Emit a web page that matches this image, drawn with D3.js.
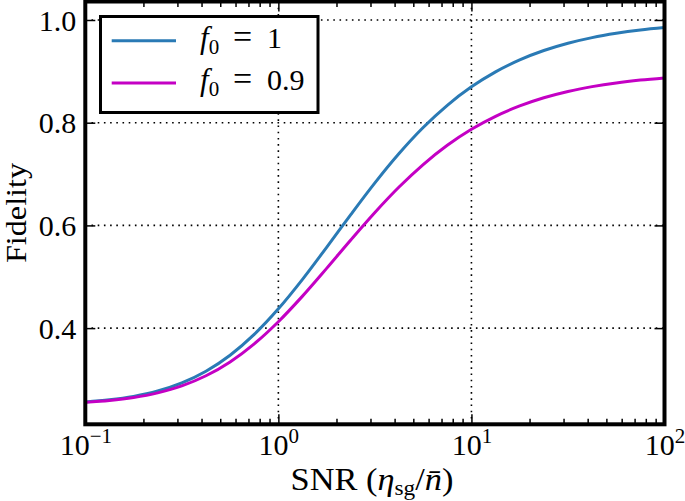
<!DOCTYPE html>
<html><head><meta charset="utf-8">
<script src="https://cdn.jsdelivr.net/npm/d3@7"></script>
<style>
body{margin:0;background:#fff;}
svg text{font-family:"Liberation Serif",serif !important;fill:#000;}
</style></head>
<body><svg id="c" width="685" height="501"></svg>
<script>
// SNR sample points (log-spaced)
const snr = [0.1,0.1334,0.1778,0.2371,0.3162,0.4217,0.5623,0.7499,1,1.3335,1.7783,2.3714,3.1623,4.217,5.6234,7.4989,10,13.335,17.783,23.714,31.623,42.17,56.234,74.989,100];
const fid1 = [0.2562,0.2604,0.2671,0.2776,0.2933,0.3160,0.3472,0.3877,0.4375,0.4949,0.5573,0.6211,0.6829,0.7400,0.7906,0.8339,0.8698,0.8990,0.9223,0.9405,0.9547,0.9657,0.9740,0.9804,0.9852];
const fid09 = [0.2554,0.2590,0.2648,0.2739,0.2875,0.3072,0.3342,0.3694,0.4125,0.4623,0.5163,0.5716,0.6252,0.6747,0.7185,0.7560,0.7872,0.8125,0.8326,0.8485,0.8608,0.8702,0.8775,0.8830,0.8872];
const seriesNames = ["1","0.9"];
const seriesColors = ["#2a7ab5","#c400c4"];
const xMajor = [0.1,1,10,100];
const xMajorExp = ["\u22121","0","1","2"];
const yMajor = [0.4,0.6,0.8,1.0];
const yLabels = ["0.4","0.6","0.8","1.0"];

const svg = d3.select("#c");
const L=85.3, R=664.5, T=1.5, B=424.3;
const x = d3.scaleLog().domain([0.1,100]).range([L,R]);
const y = d3.scaleLinear().domain([0.2127,1.036]).range([B,T]);

// grid
const g = svg.append("g");
g.selectAll("line.gx").data([1,10]).enter().append("line")
 .attr("x1",d=>x(d)).attr("x2",d=>x(d)).attr("y1",T).attr("y2",B)
 .attr("stroke","#000").attr("stroke-width",1.6).attr("stroke-dasharray","1.6,4.6");
g.selectAll("line.gy").data(yMajor).enter().append("line")
 .attr("y1",d=>y(d)).attr("y2",d=>y(d)).attr("x1",L).attr("x2",R)
 .attr("stroke","#000").attr("stroke-width",1.6).attr("stroke-dasharray","1.6,4.6");

// curves
const series=[fid1,fid09];
const line = d3.line().x((d,i)=>x(snr[i])).y(d=>y(d)).curve(d3.curveMonotoneX);
series.forEach((s,k)=>{
  svg.append("path").datum(s).attr("d",line).attr("fill","none")
   .attr("stroke",seriesColors[k]).attr("stroke-width",3);
});

// minor ticks
const minor=[];
[0.1,1,10].forEach(b=>{for(let m=2;m<=9;m++) minor.push(b*m);});
function styleAxis(sel){sel.select(".domain").remove(); sel.selectAll(".tick line").attr("stroke","#000").attr("stroke-width",1.5);}
svg.append("g").attr("transform",`translate(0,${B})`).call(d3.axisBottom(x).tickValues(minor).tickSize(-5.5).tickFormat("")).call(styleAxis);
svg.append("g").attr("transform",`translate(0,${T})`).call(d3.axisTop(x).tickValues(minor).tickSize(-5.5).tickFormat("")).call(styleAxis);
svg.append("g").attr("transform",`translate(0,${T})`).call(d3.axisTop(x).tickValues(xMajor).tickSize(-10).tickFormat("")).call(styleAxis);
svg.append("g").attr("transform",`translate(${R},0)`).call(d3.axisRight(y).tickValues(yMajor).tickSize(-10).tickFormat("")).call(styleAxis);
const xb = svg.append("g").attr("transform",`translate(0,${B})`).call(d3.axisBottom(x).tickValues(xMajor).tickSize(-10).tickPadding(0).tickFormat(""));
styleAxis(xb);
xb.selectAll(".tick").each(function(d,i){
  const t=d3.select(this).append("text").attr("y",31).attr("text-anchor","middle")
   .style("font-size","30px").attr("fill","#000");
  t.append("tspan").text("10");
  t.append("tspan").attr("dy",-12).style("font-size","21px").text(xMajorExp[i]);
});
const yl = svg.append("g").attr("transform",`translate(${L},0)`).call(d3.axisLeft(y).tickValues(yMajor).tickSize(-10).tickPadding(9).tickFormat((d,i)=>yLabels[i]));
styleAxis(yl);
yl.selectAll(".tick text").style("font-size","30px").attr("fill","#000").attr("dy","0.34em");

// spines
svg.append("rect").attr("x",L).attr("y",T).attr("width",R-L).attr("height",B-T)
 .attr("fill","none").attr("stroke","#000").attr("stroke-width",4);

// axis labels
const xl = svg.append("text").attr("x",372).attr("y",490).attr("text-anchor","middle").style("font-size","31px")
  .attr("textLength",163).attr("lengthAdjust","spacingAndGlyphs");
xl.append("tspan").text("SNR (");
xl.append("tspan").style("font-style","italic").text("\u03b7");
xl.append("tspan").attr("dy",5).style("font-size","21px").text("sg");
xl.append("tspan").attr("dy",-5).text("/");
xl.append("tspan").style("font-style","italic").text("n\u0304");
xl.append("tspan").text(")");
svg.append("text").attr("transform","translate(26,213) rotate(-90)").attr("text-anchor","middle")
 .style("font-size","30px").attr("textLength",100).attr("lengthAdjust","spacingAndGlyphs").text("Fidelity");

// legend
const lg = svg.append("g");
lg.append("rect").attr("x",100.5).attr("y",16.5).attr("width",217.5).attr("height",96)
 .attr("fill","#fff").attr("stroke","#000").attr("stroke-width",3);
seriesNames.forEach((n,k)=>{
  const yy=40.7+k*42.3;
  lg.append("line").attr("x1",111.7).attr("x2",176).attr("y1",yy).attr("y2",yy)
   .attr("stroke",seriesColors[k]).attr("stroke-width",3);
  const t=lg.append("text").attr("x",200).attr("y",yy+7).style("font-size","30px");
  t.append("tspan").style("font-style","italic").style("font-size","31px").text("f");
  t.append("tspan").attr("dy",6).style("font-size","21px").text("0");
  t.append("tspan").attr("x",233).attr("dy",-6).style("font-size","34px").text("=");
  t.append("tspan").attr("x",267).text(n);
});
</script></body></html>
